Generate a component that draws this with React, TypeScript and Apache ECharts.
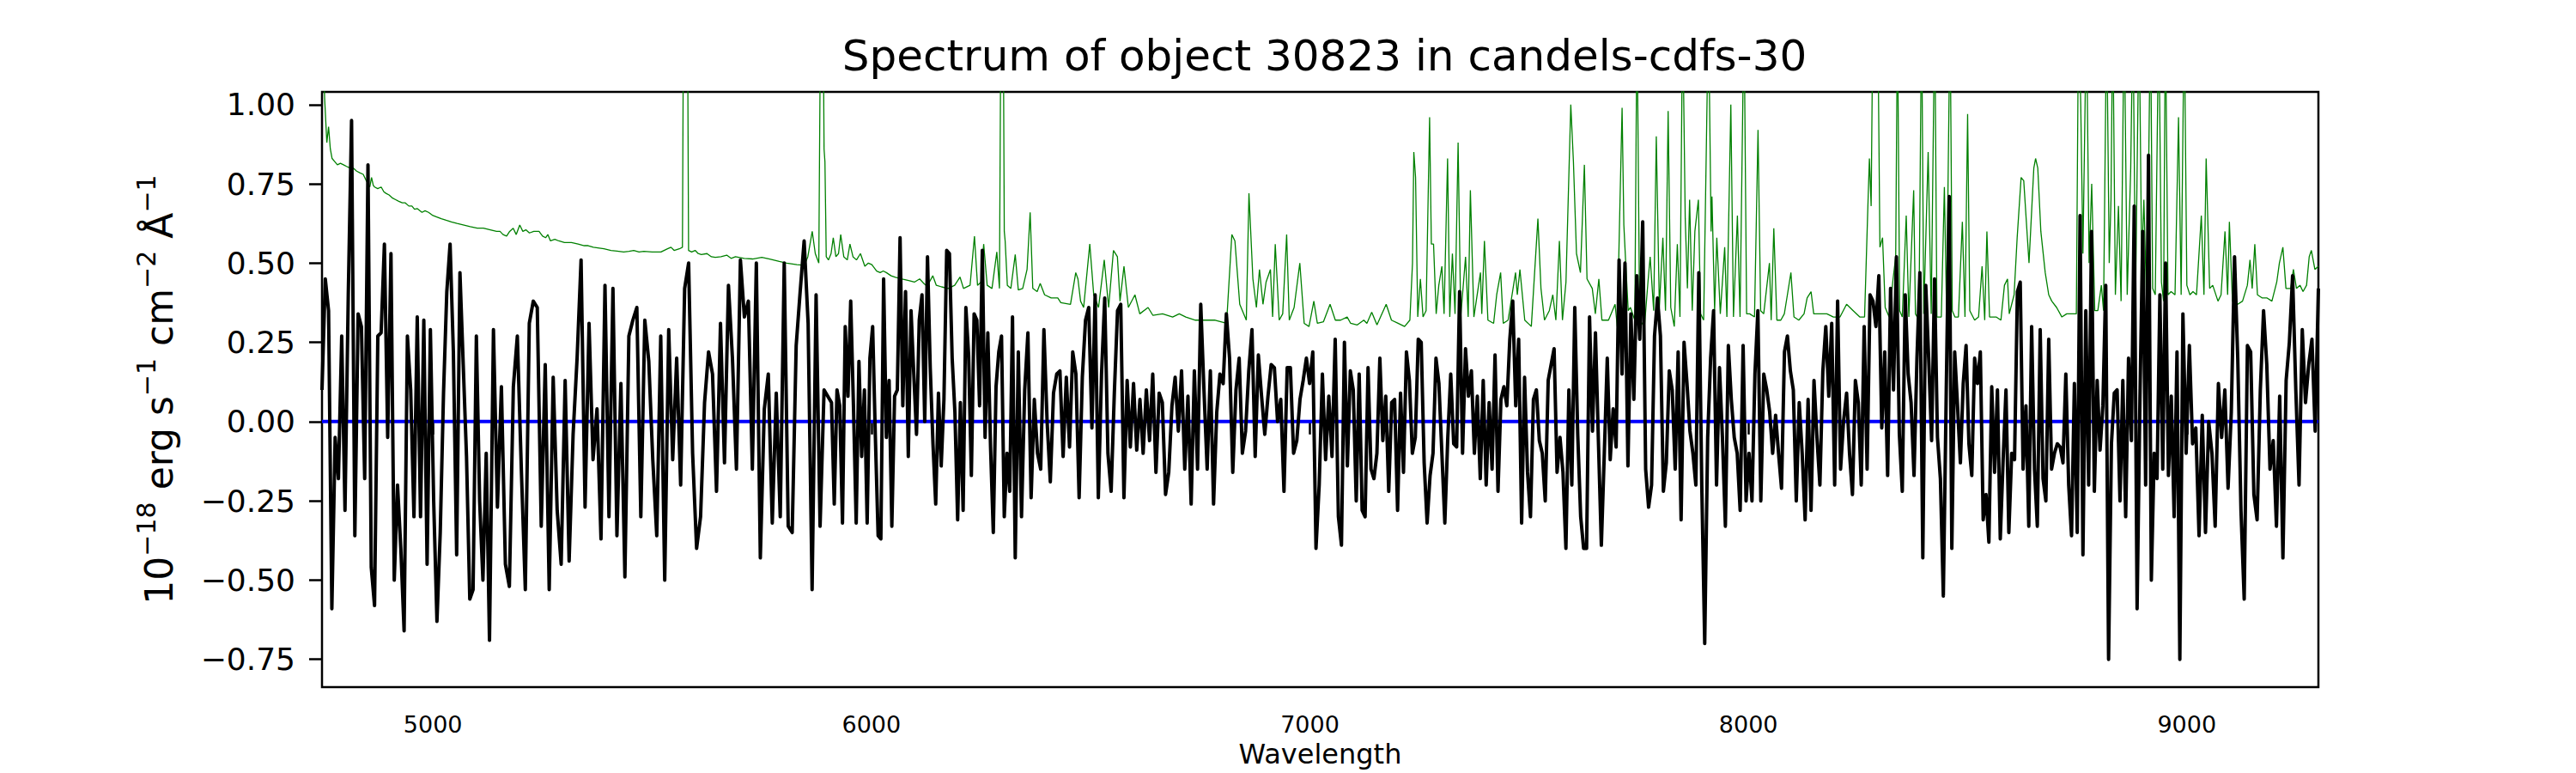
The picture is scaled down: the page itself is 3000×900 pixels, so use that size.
import React, { useEffect, useRef } from "react";
import * as echarts from "echarts";

const FONT = "DejaVu Sans";
const TITLE = "Spectrum of object 30823 in candels-cdfs-30";
const X_NAME = "Wavelength";

const X_MIN = 4747;
const X_MAX = 9300;
const X_TICKS = [5000, 6000, 7000, 8000, 9000];
const X_TICK_LABELS = ["5000", "6000", "7000", "8000", "9000"];

const Y_MIN = -0.8375;
const Y_MAX = 1.04;
const Y_TICKS = [-0.75, -0.5, -0.25, 0, 0.25, 0.5, 0.75, 1.0];
const Y_TICK_LABELS = ["−0.75", "−0.50", "−0.25", "0.00", "0.25", "0.50", "0.75", "1.00"];

// Observed flux (black), in segments on a regular wavelength grid [start, end]
const FLUX_A1_RANGE = [4747, 5129];
const FLUX_A1 = [
  0.1, 0.45, 0.35, -0.59, -0.05, -0.18, 0.27, -0.28, 0.4, 0.95,
  -0.36, 0.34, 0.3, -0.18, 0.81, -0.46, -0.58, 0.27, 0.28, 0.56,
  -0.05, 0.53, -0.5, -0.2, -0.4, -0.66, 0.27, 0.1, -0.3, 0.33,
  -0.3, 0.32, -0.45, 0.29, -0.25, -0.63, -0.35, 0.09, 0.41, 0.56,
  0.22, -0.42, 0.47, 0.18, -0.11, -0.56, -0.53, 0.27, -0.25, -0.5,
  -0.1, -0.69,
];
const FLUX_A2_RANGE = [5138, 5892];
const FLUX_A2 = [
  0.29, -0.27, 0.11, -0.45, -0.52, 0.11, 0.27, -0.15,
  -0.53, 0.31, 0.38, 0.36, -0.33, 0.18, -0.53, 0.14, -0.28, -0.45,
  0.13, -0.44, -0.04, 0.2, 0.51, -0.27, 0.31, -0.12, 0.04, -0.37,
  0.43, -0.3, 0.42, -0.36, 0.12, -0.49, 0.27, 0.32, 0.36, -0.3,
  0.32, 0.19, -0.12, -0.36, 0.27, -0.5, 0.29, -0.12, 0.2, -0.2,
  0.42, 0.5, -0.1, -0.4, -0.3, 0.06, 0.22, 0.15, -0.22, 0.31,
  -0.13, 0.43, 0.2, -0.15, 0.51, 0.33, 0.38, -0.15, 0.5, -0.43,
  0.04, 0.15, -0.32, 0.09, -0.3, 0.5, -0.33, -0.35, 0.24, 0.41,
  0.57, 0.31, -0.53, 0.4, -0.33, 0.1,
];
const FLUX_B1_RANGE = [5909, 6328];
const FLUX_B1 = [
  0.06, -0.26, 0.1, 0.05, -0.32, 0.3, 0.08, 0.38, 0.05, -0.32,
  0.19, -0.11, 0.1, -0.32, 0.2, 0.3, -0.05, -0.36, -0.37, 0.45,
  -0.05, 0.13, -0.33, 0.08, 0.1, 0.58, 0.05, 0.41, -0.11, 0.35,
  0.15, -0.04, 0.32, 0.4, 0, 0.52, 0.17, -0.07, -0.26, 0.09,
  -0.14, 0.07, 0.54, 0.53, 0.2, 0.03, -0.31, 0.06, -0.28, 0.36,
  0.21, -0.17, 0.34, 0.32, 0.05, 0.54, -0.05, 0.28, -0.08, -0.35,
  0.11, 0.22, 0.27, -0.3, -0.1, -0.22, 0.33, -0.43,
];
const FLUX_B2_RANGE = [6335, 7065];
const FLUX_B2 = [
  0.22, -0.3,
  0.1, 0.28, -0.24, 0.07, -0.1, -0.15, 0.29, 0, -0.19, 0.09,
  0.15, 0.16, -0.11, 0.14, -0.08, 0.22, 0.15, -0.24, 0.14, 0.32,
  0.36, -0.02, 0.4, -0.24, 0.15, 0.39, -0.1, -0.22, 0.09, 0.35,
  0.37, -0.24, 0.13, -0.08, 0.12, -0.09, 0.07, -0.1, 0.1, -0.06,
  0.15, -0.16, 0.09, 0.06, -0.23, -0.16, 0.05, 0.14, -0.03, 0.16,
  -0.15, 0.08, -0.26, 0.16, -0.15, 0.37, 0.1, -0.15, 0.16, -0.26,
  0.03, 0.15, 0.12, 0.34, 0.2, -0.16, 0.1, 0.2, -0.1, -0.03,
  0.16, 0.29, -0.11, 0.21, 0.08, -0.04, 0.08, 0.18, 0.17, 0,
  0.07, -0.22, 0.17, 0.17, -0.1, -0.06, 0.07, 0.13, 0.2, 0.12,
  0.22, -0.4, -0.2, 0.15, -0.12, 0.08, -0.11, 0.26, -0.3,
];
const FLUX_C_RANGE = [7072, 8217];
const FLUX_C = [
  -0.39, 0.25, -0.14, 0.16, 0.1, -0.25, 0.15, -0.28, -0.3, 0.17,
  -0.15, -0.18, -0.1, 0.2, -0.06, 0.08, -0.22, 0.06, 0.07, -0.28,
  0.09, -0.16, 0.22, 0.13, -0.1, -0.05, 0.26, 0.25, -0.13, -0.32,
  -0.17, -0.1, 0.2, 0.12, -0.1, -0.32, -0.05, 0.15, -0.07, -0.08,
  0.41, -0.1, 0.23, 0.08, 0.16, -0.1, 0.08, -0.18, 0.13, -0.2,
  0.06, -0.15, 0.21, -0.22, 0.07, 0.11, 0.05, 0.26, 0.38, 0.05,
  0.26, -0.32, 0.14, -0.16, -0.3, 0.07, 0.1, -0.06, -0.1, -0.25,
  0.13, 0.18, 0.23, -0.16, -0.05, -0.16, -0.4, 0.1, -0.2, 0.36,
  -0.04, -0.3, -0.4, -0.4, 0.33, -0.03, 0.28, -0.06, -0.39, -0.1,
  0.2, -0.12, 0.04, -0.08, 0.51, 0.15, 0.5, -0.14, 0.34, 0.07,
  0.46, 0.26, 0.63, -0.15, -0.27, -0.2, 0.27, 0.39, 0.27, -0.22,
  -0.13, 0.16, 0.1, -0.15, 0.22, -0.31, 0.25, 0.12, -0.03, -0.1,
  -0.2, 0.47, -0.2, -0.7, -0.05, 0.2, 0.35, -0.2, 0.17, -0.05,
  -0.33, 0.24, 0.07, -0.05, -0.1, -0.28, 0.24, -0.25, -0.1, -0.25,
  0.15, 0.35, -0.25, 0.15, 0.1, 0.03, -0.1, 0.02, -0.1, -0.21,
  0.22, 0.27, 0.16, 0.1, -0.25, 0.06, -0.1, -0.31, 0.07, -0.28,
  0.13, -0.05, -0.2, 0.16, 0.3, 0.08, 0.31, -0.2, 0.38, -0.15,
  0.0,
];
const FLUX_D1_RANGE = [8224, 8458];
const FLUX_D1 = [
  0.09, -0.1, -0.23, 0.13, 0.06, -0.2, 0.3, -0.15, 0.4, 0.38,
  0.3, 0.46, -0.02, 0.22, -0.17, 0.42, 0.1, 0.52, -0.04, -0.22,
  0.4, 0.15, 0.06, -0.17, 0.2, 0.47, -0.43, 0.43, 0.2, -0.06,
  0.45, -0.05, -0.18, -0.55, 0.1, 0.71,
];
const FLUX_D2_RANGE = [8464, 8984];
const FLUX_D2 = [
  -0.4, 0.22, 0.05, -0.13,
  0.12, 0.24, -0.07, -0.17, 0.2, 0.12, 0.22, -0.31, -0.23, -0.38,
  0.11, -0.16, 0.1, -0.37, -0.12, 0.1, -0.35, -0.1, -0.12, 0.41,
  0.44, -0.15, 0.05, -0.33, 0.3, -0.15, -0.33, 0.29, -0.18, -0.25,
  0.26, -0.15, -0.1, -0.07, -0.08, -0.13, 0.15, -0.2, -0.36, 0.12,
  -0.35, 0.65, -0.42, 0.35, -0.2, 0.6, -0.22, 0.13, -0.09, 0.05,
  0.43, -0.75, -0.07, 0.09, 0.1, -0.25, 0.13, -0.3, 0.2, -0.06,
  0.68, -0.59, 0.07, 0.6, -0.2, 0.84, -0.5, -0.1, -0.18, 0.4,
  -0.15, 0.5, -0.17, 0.08, -0.3, 0.22, -0.75,
];
const FLUX_D3_RANGE = [8991, 9300];
const FLUX_D3 = [
  0.34, -0.1, 0.24,
  -0.07, -0.02, -0.36, 0.02, -0.35, 0, -0.1, -0.33, 0.12, -0.05,
  0.1, -0.21, 0.03, 0.52, 0.2, -0.28, -0.56, 0.24, 0.22, -0.23,
  -0.31, 0.1, 0.35, 0.18, -0.15, -0.06, -0.33, 0.08, -0.43, 0.13,
  0.25, 0.46, 0.1, -0.2, 0.29, 0.06, 0.18, 0.26, -0.03, 0.42,
];

// Error / sky spectrum (green), [wavelength, value]
const ERR_A = [
  [4747, 1.3], [4753, 1.02], [4758, 0.88], [4762, 0.93], [4766, 0.86], [4770, 0.83],
  [4776, 0.82], [4782, 0.81], [4789, 0.815], [4796, 0.81], [4803, 0.805], [4811, 0.8],
  [4818, 0.8], [4826, 0.79], [4833, 0.785], [4841, 0.78], [4848, 0.76], [4852, 0.75],
  [4856, 0.74], [4860, 0.77], [4864, 0.745], [4867, 0.74], [4874, 0.735], [4882, 0.74],
  [4888, 0.725], [4893, 0.72], [4900, 0.715], [4908, 0.705], [4915, 0.7], [4922, 0.695],
  [4930, 0.69], [4937, 0.69], [4945, 0.68], [4952, 0.68], [4958, 0.67], [4964, 0.672],
  [4975, 0.66], [4982, 0.665], [4990, 0.66], [5000, 0.65], [5010, 0.645], [5019, 0.64],
  [5030, 0.635], [5042, 0.63], [5055, 0.625], [5071, 0.62], [5085, 0.615], [5101, 0.61],
  [5115, 0.61], [5131, 0.605], [5145, 0.6], [5153, 0.6], [5160, 0.59], [5168, 0.585],
  [5175, 0.6], [5183, 0.61], [5190, 0.59], [5198, 0.62], [5205, 0.6], [5212, 0.605],
  [5220, 0.595], [5230, 0.6], [5242, 0.6], [5250, 0.585], [5257, 0.58], [5262, 0.59],
  [5268, 0.57], [5278, 0.575], [5287, 0.57], [5300, 0.565], [5316, 0.565], [5331, 0.56],
  [5345, 0.555], [5354, 0.555], [5366, 0.55], [5376, 0.548], [5390, 0.545], [5406, 0.54],
  [5420, 0.538], [5435, 0.535], [5447, 0.537], [5458, 0.54], [5470, 0.535],
];
const ERR_B = [
  [5481, 0.537], [5500, 0.535], [5520, 0.535], [5535, 0.545], [5543, 0.55], [5550, 0.54],
  [5562, 0.545], [5569, 0.55], [5572, 1.5], [5580, 1.5], [5583, 0.54], [5590, 0.535],
  [5598, 0.54], [5605, 0.53], [5612, 0.527], [5625, 0.53], [5635, 0.52], [5644, 0.518],
  [5657, 0.52], [5670, 0.525], [5680, 0.515], [5690, 0.52], [5710, 0.515], [5729, 0.513],
  [5750, 0.518], [5768, 0.513], [5790, 0.505], [5807, 0.5], [5830, 0.495], [5847, 0.493],
  [5855, 0.52], [5865, 0.6], [5872, 0.53], [5880, 0.5], [5885, 1.5], [5889, 1.5],
  [5892, 0.86], [5894, 0.82], [5897, 0.52], [5902, 0.51], [5908, 0.53], [5913, 0.58],
  [5919, 0.52], [5925, 0.53], [5930, 0.59], [5937, 0.52], [5945, 0.51], [5951, 0.56],
  [5958, 0.52], [5966, 0.51], [5975, 0.53], [5985, 0.49], [5993, 0.5], [6001, 0.495],
  [6012, 0.475], [6020, 0.47], [6027, 0.475], [6034, 0.47], [6045, 0.46], [6055, 0.455],
  [6070, 0.45], [6085, 0.445], [6098, 0.44], [6110, 0.45], [6120, 0.435], [6127, 0.427],
  [6140, 0.46], [6148, 0.43], [6160, 0.425], [6175, 0.42], [6190, 0.43], [6202, 0.456],
  [6210, 0.42], [6225, 0.43], [6235, 0.585], [6242, 0.43], [6250, 0.44], [6256, 0.56],
  [6264, 0.43], [6275, 0.42], [6286, 0.535], [6292, 0.42], [6296, 1.5], [6300, 1.5],
  [6303, 0.6], [6305, 0.57], [6310, 0.43], [6318, 0.42], [6328, 0.527], [6335, 0.415],
  [6345, 0.42], [6355, 0.48], [6362, 0.66], [6368, 0.42], [6378, 0.41], [6385, 0.436],
  [6395, 0.4], [6410, 0.39], [6425, 0.39],
];
const ERR_C = [
  [6432, 0.375], [6454, 0.37], [6466, 0.47], [6471, 0.45], [6477, 0.38], [6484, 0.36],
  [6498, 0.56], [6507, 0.4], [6518, 0.36], [6531, 0.51], [6541, 0.36], [6552, 0.54],
  [6561, 0.52], [6567, 0.38], [6576, 0.49], [6586, 0.36], [6601, 0.4], [6612, 0.34],
  [6631, 0.36], [6642, 0.335], [6664, 0.34], [6687, 0.33], [6702, 0.34], [6717, 0.33],
  [6739, 0.32], [6762, 0.32], [6784, 0.32], [6810, 0.31], [6822, 0.59], [6829, 0.57],
  [6840, 0.37], [6855, 0.32], [6861, 0.72], [6870, 0.45], [6878, 0.36], [6885, 0.48],
  [6893, 0.37], [6900, 0.44], [6910, 0.48], [6915, 0.33], [6921, 0.56], [6930, 0.32],
  [6938, 0.34], [6947, 0.59], [6953, 0.32], [6964, 0.36], [6977, 0.5], [6987, 0.31],
  [6998, 0.3], [7009, 0.38], [7017, 0.31], [7031, 0.315], [7046, 0.37], [7058, 0.32],
];
const ERR_D = [
  [7070, 0.32], [7085, 0.33], [7093, 0.31], [7108, 0.305], [7123, 0.32], [7130, 0.31],
  [7141, 0.345], [7153, 0.305], [7174, 0.37], [7186, 0.32], [7201, 0.31], [7216, 0.3],
  [7228, 0.32], [7234, 0.5], [7237, 0.85], [7241, 0.77], [7246, 0.33], [7252, 0.45],
  [7258, 0.33], [7265, 0.35], [7273, 0.96], [7277, 0.56], [7282, 0.56], [7288, 0.34],
  [7294, 0.43], [7301, 0.49], [7306, 0.34], [7314, 0.83], [7319, 0.33], [7325, 0.53],
  [7331, 0.34], [7338, 0.88], [7344, 0.33], [7355, 0.52], [7361, 0.33], [7366, 0.73],
  [7374, 0.33], [7389, 0.47], [7392, 0.34], [7398, 0.57], [7406, 0.32], [7419, 0.31],
  [7426, 0.4], [7435, 0.47], [7441, 0.31], [7452, 0.32], [7469, 0.47], [7473, 0.4],
  [7479, 0.48], [7490, 0.32], [7505, 0.3], [7520, 0.64], [7527, 0.42], [7535, 0.32],
  [7546, 0.35], [7554, 0.4], [7561, 0.32], [7569, 0.57], [7576, 0.32], [7584, 0.44],
  [7595, 1.0], [7601, 0.82], [7608, 0.53], [7617, 0.47], [7626, 0.81], [7632, 0.45],
  [7644, 0.42], [7651, 0.34], [7659, 0.45], [7666, 0.32], [7681, 0.32], [7696, 0.37],
  [7701, 0.3], [7707, 0.68], [7712, 0.99], [7716, 0.62], [7721, 0.48], [7726, 0.35],
  [7731, 0.36], [7741, 0.32], [7746, 1.3], [7752, 0.32], [7763, 0.3], [7771, 0.44],
  [7776, 0.52], [7784, 0.35], [7790, 0.9], [7797, 0.36], [7805, 0.58], [7811, 0.35],
  [7817, 0.98], [7823, 0.36], [7831, 0.3], [7838, 0.56], [7844, 0.33], [7850, 1.3],
  [7856, 0.64], [7861, 0.42], [7866, 0.7], [7872, 0.35], [7878, 0.6], [7886, 0.7],
  [7891, 0.34], [7898, 0.32], [7909, 1.3], [7915, 0.6], [7917, 0.71], [7923, 0.35],
  [7928, 0.58], [7936, 0.34], [7946, 0.55], [7951, 0.33], [7960, 1.0], [7966, 0.33],
  [7975, 0.65], [7981, 0.33], [7990, 1.3], [7996, 0.34], [8003, 0.34], [8014, 0.33],
  [8022, 0.92], [8028, 0.35], [8035, 0.34], [8048, 0.5], [8052, 0.32], [8058, 0.61],
  [8065, 0.32], [8074, 0.32], [8082, 0.34], [8089, 0.4], [8097, 0.47], [8104, 0.33],
  [8115, 0.32], [8127, 0.34], [8134, 0.39], [8143, 0.41], [8149, 0.34], [8164, 0.34],
];
const ERR_E = [
  [8179, 0.34], [8194, 0.33], [8209, 0.33], [8224, 0.37], [8239, 0.35], [8254, 0.33],
  [8265, 0.33], [8273, 0.7], [8276, 0.83], [8280, 0.68], [8284, 1.3], [8290, 1.3],
  [8295, 1.3], [8300, 0.55], [8306, 0.58], [8312, 0.36], [8321, 0.33], [8330, 0.45],
  [8336, 0.52], [8340, 1.3], [8345, 0.35], [8351, 0.33], [8360, 0.65], [8366, 0.33],
  [8377, 0.73], [8381, 0.34], [8389, 0.32], [8395, 1.3], [8400, 0.34], [8410, 0.85],
  [8417, 0.34], [8425, 1.3], [8430, 0.33], [8440, 0.33], [8447, 0.74], [8452, 0.35],
  [8460, 1.3], [8465, 0.35], [8471, 0.33], [8479, 0.33], [8488, 0.63], [8494, 0.33],
  [8500, 0.97], [8505, 0.35], [8516, 0.32], [8525, 0.33], [8533, 0.49], [8539, 0.32],
  [8544, 0.6], [8550, 0.33], [8565, 0.33], [8576, 0.32], [8584, 0.43], [8591, 0.45],
  [8595, 0.34], [8606, 0.4], [8613, 0.58], [8622, 0.77], [8628, 0.76], [8640, 0.5],
  [8651, 0.8], [8655, 0.83], [8660, 0.8], [8667, 0.6], [8677, 0.47], [8685, 0.4],
  [8692, 0.38], [8703, 0.36], [8715, 0.33], [8726, 0.34], [8737, 0.34], [8748, 0.34],
  [8753, 1.3], [8758, 1.0], [8763, 0.53], [8771, 1.3], [8777, 0.5], [8783, 0.75],
  [8790, 0.35], [8797, 0.35], [8805, 0.43], [8810, 0.35], [8817, 1.3], [8823, 0.5],
  [8827, 0.7], [8831, 1.3], [8837, 0.4], [8844, 0.68], [8850, 0.38], [8857, 1.3],
  [8864, 0.4], [8872, 0.8], [8877, 1.3], [8883, 0.38], [8891, 1.3], [8897, 0.5],
  [8902, 0.7], [8909, 0.33], [8917, 1.3], [8922, 0.42], [8928, 0.4], [8936, 1.3],
  [8942, 0.44], [8947, 0.38], [8951, 1.3], [8957, 0.4], [8964, 0.41], [8973, 0.4],
  [8981, 0.96], [8987, 0.4], [8994, 1.3], [9000, 0.43], [9007, 0.4], [9014, 0.41],
  [9022, 0.4], [9033, 0.65], [9039, 0.4], [9044, 0.83], [9052, 0.42], [9059, 0.43],
  [9071, 0.38], [9078, 0.4], [9087, 0.6], [9093, 0.4], [9097, 0.63], [9104, 0.38],
  [9116, 0.37], [9127, 0.38], [9138, 0.43], [9144, 0.51], [9149, 0.42], [9155, 0.56],
  [9161, 0.4], [9172, 0.39], [9183, 0.39], [9194, 0.38], [9205, 0.44], [9211, 0.5],
  [9219, 0.55], [9226, 0.42], [9237, 0.42], [9243, 0.48], [9250, 0.42], [9258, 0.43],
  [9265, 0.41], [9273, 0.43], [9279, 0.52], [9284, 0.54], [9292, 0.48], [9300, 0.49],
];

// Contamination model (blue)
const CONTAM_WAVE = [4747, 9300];
const CONTAM_FLUX = [0, 0];

function onGrid(range: number[], values: number[]) {
  const n = values.length;
  return values.map((v, i) => [range[0] + ((range[1] - range[0]) * i) / (n - 1), v]);
}

const FLUX_SEGMENTS: [number[], number[]][] = [
  [FLUX_A1_RANGE, FLUX_A1],
  [FLUX_A2_RANGE, FLUX_A2],
  [FLUX_B1_RANGE, FLUX_B1],
  [FLUX_B2_RANGE, FLUX_B2],
  [FLUX_C_RANGE, FLUX_C],
  [FLUX_D1_RANGE, FLUX_D1],
  [FLUX_D2_RANGE, FLUX_D2],
  [FLUX_D3_RANGE, FLUX_D3],
];

export default function App() {
  const ref = useRef<HTMLDivElement>(null);
  useEffect(() => {
    document.body.style.margin = "0";
    if (!ref.current) return;
    const chart = echarts.init(ref.current, null, { renderer: "svg" });
    const fluxData = FLUX_SEGMENTS.flatMap(([r, v]) => onGrid(r, v));
    const errData = [...ERR_A, ...ERR_B, ...ERR_C, ...ERR_D, ...ERR_E];
    const contamData = CONTAM_WAVE.map((w, i) => [w, CONTAM_FLUX[i]]);
    const yLabel = (v: number) => {
      const i = Y_TICKS.findIndex((t) => Math.abs(t - v) < 1e-9);
      return i >= 0 ? Y_TICK_LABELS[i] : "";
    };
    const xLabel = (v: number) => {
      const i = X_TICKS.findIndex((t) => Math.abs(t - v) < 1e-9);
      return i >= 0 ? X_TICK_LABELS[i] : "";
    };
    chart.setOption({
      animation: false,
      backgroundColor: "#ffffff",
      title: {
        text: TITLE,
        left: 1537.5,
        top: 35,
        textAlign: "center",
        textStyle: { fontFamily: FONT, fontSize: 50, fontWeight: "normal", color: "#000" },
      },
      grid: {
        left: 375,
        right: 300,
        top: 107,
        bottom: 100,
        show: true,
        borderColor: "#000",
        borderWidth: 2.5,
        backgroundColor: "transparent",
        containLabel: false,
      },
      xAxis: {
        type: "value",
        min: X_MIN,
        max: X_MAX,
        name: X_NAME,
        nameLocation: "middle",
        nameGap: 60,
        nameTextStyle: { fontFamily: FONT, fontSize: 32, color: "#000" },
        axisLine: { show: false },
        axisTick: { show: true, customValues: X_TICKS, length: 15, lineStyle: { color: "#000", width: 2.5 } },
        axisLabel: { customValues: X_TICKS, formatter: xLabel, fontFamily: FONT, fontSize: 27, margin: 30, color: "#000" },
        splitLine: { show: false },
      },
      yAxis: {
        type: "value",
        min: Y_MIN,
        max: Y_MAX,
        name: "{n|10}{s|−18}{n| erg s}{s|−1}{n| cm}{s|−2}{n| Å}{s|−1}",
        nameLocation: "middle",
        nameGap: 160,
        nameTextStyle: {
          fontFamily: FONT,
          fontSize: 44,
          color: "#000",
          rich: {
            n: { fontFamily: FONT, fontSize: 44, lineHeight: 60, color: "#000" },
            s: { fontFamily: FONT, fontSize: 30, lineHeight: 26, verticalAlign: "top", color: "#000" },
          },
        },
        axisLine: { show: false },
        axisTick: { show: true, customValues: Y_TICKS, length: 15, lineStyle: { color: "#000", width: 2.5 } },
        axisLabel: { customValues: Y_TICKS, formatter: yLabel, fontFamily: FONT, fontSize: 36, margin: 31, color: "#000" },
        splitLine: { show: false },
      },
      series: [
        {
          type: "line",
          data: errData,
          showSymbol: false,
          lineStyle: { color: "#008000", width: 1.3 },
          z: 1,
        },
        {
          type: "line",
          data: contamData,
          showSymbol: false,
          lineStyle: { color: "#0000ff", width: 4 },
          z: 2,
        },
        {
          type: "line",
          data: fluxData,
          showSymbol: false,
          lineStyle: { color: "#000000", width: 4, join: "round" },
          z: 3,
        },
      ],
    });
    return () => chart.dispose();
  }, []);
  return <div ref={ref} style={{ width: 3000, height: 900 }} />;
}
